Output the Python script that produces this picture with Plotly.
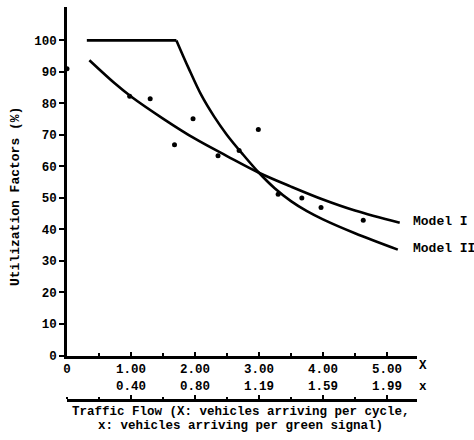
import plotly.graph_objects as go

# ---- data ----
obs_x = [0.0, 0.98, 1.30, 1.68, 1.97, 2.36, 2.69, 2.99, 3.30, 3.67, 3.97, 4.63]
obs_y = [91.0, 82.3, 81.5, 66.9, 75.1, 63.4, 65.1, 71.7, 51.2, 50.0, 47.0, 42.9]

model1_x = [0.35, 0.75, 1.0, 1.5, 2.0, 2.5, 3.0, 3.5, 4.0, 4.5, 5.2]
model1_y = [93.7, 86.3, 82.2, 75.2, 68.8, 63.3, 58.0, 53.6, 49.5, 46.0, 42.1]

model2_x = [0.31, 1.71, 1.9, 2.1, 2.3, 2.5, 2.75, 3.0, 3.25, 3.5, 3.75, 4.0, 4.5, 5.17]
model2_y = [100.0, 100.0, 91.2, 82.6, 75.8, 70.0, 63.8, 58.0, 53.0, 49.0, 45.8, 43.2, 38.8, 33.6]

y_ticks = [0, 10, 20, 30, 40, 50, 60, 70, 80, 90, 100]
X_ticks = [0, 1, 2, 3, 4, 5]
X_labels = ["0", "1.00", "2.00", "3.00", "4.00", "5.00"]
x_small_ticks = [1, 2, 3, 4, 5]
x_small_labels = ["0.40", "0.80", "1.19", "1.59", "1.99"]

series_names = ["Model I", "Model II"]

FONT = "Liberation Mono"
tick_font = dict(family=FONT, size=12.5, color="black", weight="bold")
text_font = dict(family=FONT, size=13, color="black", weight="bold")
title_font = dict(family=FONT, size=12.5, color="black", weight="bold")

fig = go.Figure()

line_style = dict(color="black", width=2.6)

fig.add_trace(go.Scatter(x=model1_x, y=model1_y, mode="lines",
                         line=dict(shape="spline", **line_style),
                         showlegend=False, hoverinfo="skip"))
# Model II: flat part then curve
fig.add_trace(go.Scatter(x=model2_x[:2], y=model2_y[:2], mode="lines",
                         line=dict(shape="linear", **line_style),
                         showlegend=False, hoverinfo="skip"))
fig.add_trace(go.Scatter(x=model2_x[1:], y=model2_y[1:], mode="lines",
                         line=dict(shape="spline", **line_style),
                         showlegend=False, hoverinfo="skip"))
fig.add_trace(go.Scatter(x=obs_x, y=obs_y, mode="markers",
                         marker=dict(color="black", size=5),
                         cliponaxis=False, showlegend=False))
# helper (invisible) trace so the second x axis is drawn
fig.add_trace(go.Scatter(x=x_small_ticks, y=[0] * len(x_small_ticks),
                         xaxis="x2", yaxis="y", mode="markers",
                         marker=dict(opacity=0), showlegend=False,
                         hoverinfo="skip"))

XMAX = 5.47

fig.update_layout(
    width=474, height=440,
    margin=dict(l=67, r=57, t=7, b=40),
    paper_bgcolor="white", plot_bgcolor="white",
    showlegend=False,
    xaxis=dict(range=[0, XMAX], anchor="y", showline=True, linewidth=2.5,
               linecolor="black", showgrid=False, zeroline=False,
               ticks="inside", ticklen=4, tickwidth=2, tickcolor="black",
               tickvals=X_ticks, ticktext=X_labels, tickfont=tick_font,
               minor=dict(ticks="inside", dtick=0.5, tick0=0, ticklen=3,
                          tickwidth=2, tickcolor="black", showgrid=False)),
    xaxis2=dict(range=[0, XMAX], overlaying="x", anchor="free", position=0,
                side="top", showline=True, linewidth=2.5, linecolor="black",
                showgrid=False, zeroline=False,
                ticks="outside", ticklen=4, tickwidth=2, tickcolor="black",
                tickvals=x_small_ticks, ticktext=x_small_labels,
                tickfont=tick_font,
                minor=dict(ticks="outside", dtick=0.5, tick0=0, ticklen=2,
                           tickwidth=2, tickcolor="black", showgrid=False)),
    yaxis=dict(domain=[0.1132, 1], range=[0, 110.6], showline=True,
               linewidth=2.5, linecolor="black", showgrid=False,
               zeroline=False, ticks="outside", ticklen=5, tickwidth=2,
               tickcolor="black", tickvals=y_ticks,
               ticktext=[str(v) for v in y_ticks], tickfont=tick_font),
)

ann = []
ann.append(dict(x=5.38, y=42.5, xref="x", yref="y", text=series_names[0],
                showarrow=False, xanchor="left", yanchor="middle", font=text_font))
ann.append(dict(x=5.38, y=34.0, xref="x", yref="y", text=series_names[1],
                showarrow=False, xanchor="left", yanchor="middle", font=text_font))
ann.append(dict(x=1.017, y=0.0865, xref="paper", yref="paper", text="X",
                showarrow=False, xanchor="center", yanchor="middle", font=tick_font))
ann.append(dict(x=1.017, y=0.033, xref="paper", yref="paper", text="x",
                showarrow=False, xanchor="center", yanchor="middle", font=tick_font))
ann.append(dict(x=0.497, y=-0.030, xref="paper", yref="paper",
                text="Traffic Flow (X: vehicles arriving per cycle,",
                showarrow=False, xanchor="center", yanchor="middle", font=title_font))
ann.append(dict(x=0.497, y=-0.066, xref="paper", yref="paper",
                text="x: vehicles arriving per green signal)",
                showarrow=False, xanchor="center", yanchor="middle", font=title_font))
ann.append(dict(x=-0.1486, y=0.519, xref="paper", yref="paper",
                text="Utilization Factors (%)", textangle=-90,
                showarrow=False, xanchor="center", yanchor="middle", font=text_font))
fig.update_layout(annotations=ann)

fig.write_html("out.html",
               config={"displayModeBar": False},
               post_script="document.body.style.margin='0px';"
                           "document.body.style.overflow='hidden';")
